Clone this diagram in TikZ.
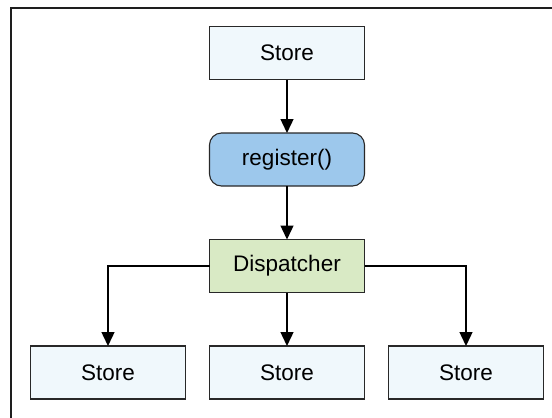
\documentclass[tikz,border=0pt]{standalone}
\usepackage{fontspec}
\setmainfont{Liberation Sans}
\usetikzlibrary{positioning,arrows.meta}
\definecolor{storeBlue}{RGB}{240,248,252}
\definecolor{regBlue}{RGB}{157,200,236}
\definecolor{dispGreen}{RGB}{217,234,197}
\definecolor{boxLine}{RGB}{40,40,40}
\definecolor{frameGray}{RGB}{30,30,30}

\begin{document}
\begin{tikzpicture}[x=1pt, y=-1pt,
  box/.style={rectangle, draw=boxLine, line width=1.1pt,
              fill=#1, minimum width=155pt, minimum height=53pt,
              inner sep=0pt, outer sep=0pt,
              font=\fontsize{22.5}{26}\selectfont},
  arr/.style={-{Triangle[width=13pt,length=14pt]}, line width=1.4pt, black},
  node distance=53.5pt and 24pt
]
  \useasboundingbox (0,0) rectangle (552,418);
  \draw[line width=2pt, frameGray] (11,418) -- (11,8) -- (552,8);
  \node[box=storeBlue] (S0) at (287,53) {Store};
  \node[box=regBlue, rounded corners=12pt, below=of S0] (R) {register()};
  \node[box=dispGreen, below=of R] (D) {Dispatcher};
  \node[box=storeBlue, below=of D] (S2) {Store};
  \node[box=storeBlue, left=of S2]  (S1) {Store};
  \node[box=storeBlue, right=of S2] (S3) {Store};
  \foreach \a/\b in {S0/R,R/D,D/S2}
    \draw[arr] (\a) -- (\b);
  \draw[arr] (D.west) -| (S1.north);
  \draw[arr] (D.east) -| (S3.north);
\end{tikzpicture}
\end{document}
